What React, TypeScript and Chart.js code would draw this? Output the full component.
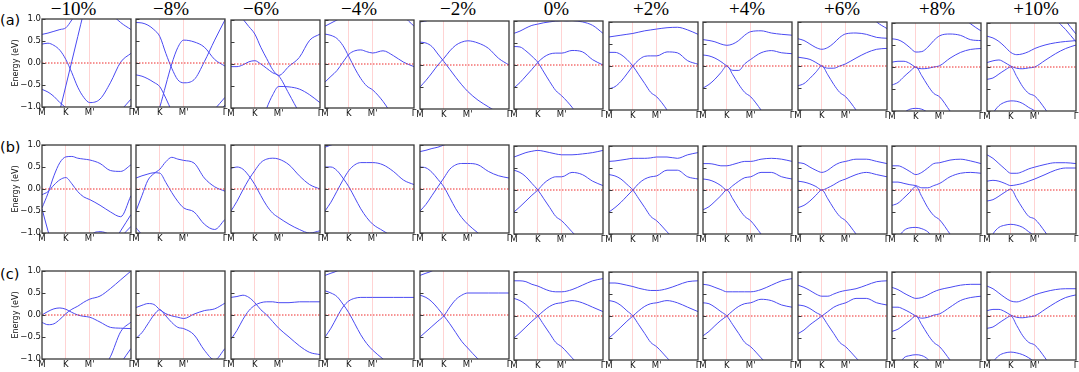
import React, { useEffect, useRef } from "react";
import { Chart, registerables } from "chart.js";
Chart.register(...registerables);

// k-path sample positions (M -> K -> M' -> Gamma), normalised length
const K_PATH = [0, 0.067, 0.134, 0.201, 0.268, 0.335, 0.402, 0.469, 0.536, 0.652, 0.768, 0.884, 1.0];
const X_TICK_POS = [0, 0.268, 0.536, 1];
const X_TICK_LABELS = ["M", "K", "M'", "Γ"];
const Y_TICKS = [-1, -0.5, 0, 0.5, 1];
const FERMI_LEVEL = 0;
const STRAINS = ["−10%", "−8%", "−6%", "−4%", "−2%", "0%", "+2%", "+4%", "+6%", "+8%", "+10%"];
const ROW_LABELS = ["(a)", "(b)", "(c)"];

// ---- row (a) band energies (eV) ----
const A_M10 = [
  [0.65, 0.68, 0.72, 0.76, 0.8, 0.98, 1.2, 1.4, 1.6, 1.8, 2, 2, 2],
  [0.43, 0.45, 0.4, 0.29, 0.08, -0.22, -0.55, -0.78, -0.9, -0.82, -0.45, 0.02, 0.22],
  [-2.2, -1.9, -1.6, -1.07, -0.52, 0.04, 0.6, 1.16, 1.7, 2.2, 2.5, 2.5, 2.5],
  [-0.6, -0.66, -0.76, -0.9, -1.02, -1.2, -1.4, -1.6, -1.8, -2, -2, -2, -2],
  [2, 2, 2, 2, 2, 2, 2, 2, 1.8, 1.5, 1.15, 0.92, 0.76],
  [-2, -2, -2, -2, -2, -2, -2, -2, -2, -1.6, -1.3, -1.08, -0.82],
  [-2, -2, -2, -2, -2, -2, -2, -2, -2, -1.8, -1.5, -1.25, -0.96],
];
const A_M8 = [
  [0.92, 0.91, 0.86, 0.76, 0.6, 0.22, -0.12, -0.38, -0.45, -0.38, 0.03, 0.52, 0.98],
  [-0.27, -0.3, -0.36, -0.44, -0.54, -0.8, -1.1, -1.4, -1.7, -2, -2, -2, -2],
  [-2.5, -2.2, -1.8, -1.4, -1.0, -0.5, -0.02, 0.35, 0.52, 0.48, 0.36, 0.08, -0.07],
  [-2, -2, -2, -2, -2, -2, -2, -2, -2, -1.6, -1.3, -1.05, -0.78],
  [-2, -2, -2, -2, -2, -2, -2, -2, -2, -1.8, -1.5, -1.25, -0.95],
];
const A_M6 = [
  [1.4, 1.2, 1.02, 0.85, 0.68, 0.38, 0.12, -0.13, -0.26, -0.05, 0.15, 0.54, 0.68],
  [-0.06, -0.06, -0.02, 0.05, 0.075, 0.0, -0.1, -0.2, -0.27, -0.68, -1.1, -1.4, -1.6],
  [-2.5, -2.3, -2.1, -1.8, -1.6, -1.4, -1.0, -0.7, -0.51, -0.52, -0.57, -0.7, -0.88],
];
const A_M4 = [
  [0.86, 0.93, 1.0, 1.08, 1.2, 1.3, 1.5, 1.7, 1.9, 2, 2, 2, 2],
  [2, 2, 2, 2, 2, 2, 2, 2, 2, 1.8, 1.5, 1.1, 0.86],
  [0.68, 0.65, 0.58, 0.42, 0.17, -0.1, -0.33, -0.5, -0.59, -0.85, -1.2, -1.5, -1.8],
  [-0.41, -0.28, -0.15, 0.04, 0.22, 0.3, 0.32, 0.28, 0.25, 0.3, 0.19, 0.04, -0.06],
];
const A_M2 = [
  [0.98, 1.0, 1.05, 1.1, 1.2, 1.3, 1.5, 1.7, 1.9, 2, 2, 2, 2],
  [0.52, 0.5, 0.42, 0.25, 0.08, -0.1, -0.28, -0.45, -0.6, -0.8, -0.95, -1.1, -1.3],
  [-0.5, -0.35, -0.18, 0.0, 0.15, 0.32, 0.45, 0.52, 0.55, 0.5, 0.38, 0.15, 0.0],
];
const A_0 = [
  [0.72, 0.77, 0.84, 0.9, 0.93, 0.96, 0.98, 1.0, 1.01, 1.01, 0.98, 0.9, 0.72],
  [0.42, 0.41, 0.32, 0.2, 0.06, -0.16, -0.38, -0.58, -0.7, -0.96, -1.3, -1.6, -1.9],
  [-0.52, -0.4, -0.25, -0.1, 0.06, 0.18, 0.25, 0.27, 0.27, 0.33, 0.3, 0.12, 0.0],
];
const A_P2 = [
  [0.66, 0.68, 0.7, 0.72, 0.74, 0.77, 0.8, 0.82, 0.84, 0.87, 0.88, 0.82, 0.72],
  [0.31, 0.31, 0.26, 0.15, 0.0, -0.2, -0.4, -0.6, -0.7, -1.0, -1.4, -1.7, -2],
  [-0.52, -0.47, -0.35, -0.18, 0.0, 0.14, 0.22, 0.23, 0.23, 0.32, 0.3, 0.12, 0.04],
];
const A_P4 = [
  [0.6, 0.58, 0.55, 0.5, 0.47, 0.5, 0.58, 0.7, 0.78, 0.8, 0.75, 0.72, 0.7],
  [0.25, 0.23, 0.18, 0.1, 0.0, -0.1, -0.1, 0.05, 0.15, 0.3, 0.35, 0.3, 0.28],
  [-0.5, -0.42, -0.3, -0.15, 0.0, -0.2, -0.42, -0.6, -0.7, -1.0, -1.35, -1.7, -2],
];
const A_P6 = [
  [0.62, 0.58, 0.5, 0.42, 0.38, 0.42, 0.52, 0.65, 0.73, 0.75, 0.72, 0.65, 0.63],
  [0.2, 0.18, 0.15, 0.08, 0.0, -0.05, -0.05, 0.0, 0.05, 0.18, 0.3, 0.38, 0.4],
  [-0.45, -0.4, -0.28, -0.14, 0.0, -0.2, -0.42, -0.6, -0.7, -1.0, -1.35, -1.7, -2],
  [2, 2, 2, 2, 2, 2, 2, 2, 2, 1.6, 1.25, 1.0, 0.85],
];
const A_P8 = [
  [0.64, 0.62, 0.55, 0.44, 0.34, 0.35, 0.45, 0.6, 0.71, 0.75, 0.72, 0.62, 0.6],
  [0.11, 0.13, 0.13, 0.08, -0.01, -0.04, -0.03, 0.0, 0.03, 0.2, 0.33, 0.4, 0.42],
  [-0.41, -0.35, -0.22, -0.1, 0.0, -0.2, -0.42, -0.6, -0.68, -1.0, -1.3, -1.6, -1.9],
  [-1.4, -1.2, -1.04, -0.96, -0.94, -0.96, -1.04, -1.2, -1.4, -1.7, -2, -2, -2],
  [2, 2, 2, 2, 2, 2, 2, 2, 2, 1.6, 1.2, 0.98, 0.82],
];
const A_P10 = [
  [0.7, 0.66, 0.58, 0.46, 0.33, 0.28, 0.3, 0.35, 0.42, 0.5, 0.55, 0.58, 0.6],
  [0.1, 0.14, 0.16, 0.1, 0.02, -0.03, -0.04, -0.02, 0.0, 0.15, 0.3, 0.42, 0.5],
  [-0.28, -0.25, -0.16, -0.07, 0.0, -0.22, -0.45, -0.6, -0.66, -0.95, -1.3, -1.6, -1.9],
  [-1.3, -1.05, -0.88, -0.8, -0.77, -0.78, -0.83, -0.92, -1.0, -1.3, -1.6, -2, -2],
  [2, 2, 2, 2, 2, 2, 2, 2, 2, 1.5, 1.1, 0.85, 0.57],
  [2, 2, 2, 2, 2, 2, 2, 2, 2, 1.8, 1.4, 1.05, 0.75],
];

// ---- row (b) ----
const B_M10 = [
  [-0.43, -0.1, 0.3, 0.6, 0.73, 0.74, 0.7, 0.68, 0.66, 0.58, 0.42, 0.4, 0.55],
  [-0.13, -0.06, 0.09, 0.21, 0.26, 0.12, -0.06, -0.18, -0.24, -0.37, -0.52, -0.63, -0.15],
  [-0.45, -0.95, -1.4, -1.8, -2, -2, -2, -2, -2, -2, -2, -2, -2],
  [-2, -2, -2, -2, -2, -2, -2, -2, -1.6, -1.4, -1.3, -0.95, -0.58],
  [-2, -2, -2, -2, -2, -2, -2, -2, -2, -1.7, -1.4, -1.1, -0.85],
  [-2, -2, -2, -2, -2, -2, -2, -1.5, -1.1, -0.97, -1.05, -1.3, -1.6],
];
const B_M8 = [
  [0.25, 0.3, 0.34, 0.37, 0.36, 0.15, -0.08, -0.28, -0.43, -0.52, -0.8, -0.92, -0.69],
  [-0.5, -0.15, 0.2, 0.35, 0.45, 0.62, 0.72, 0.68, 0.65, 0.59, 0.25, 0.05, -0.05],
  [-0.88, -1.05, -1.3, -1.6, -2, -2, -2, -2, -2, -2, -2, -2, -2],
];
const B_M6 = [
  [0.47, 0.5, 0.45, 0.3, 0.1, -0.15, -0.38, -0.55, -0.65, -0.8, -0.92, -1.0, -0.95],
  [-0.5, -0.28, -0.02, 0.22, 0.42, 0.6, 0.68, 0.7, 0.68, 0.55, 0.3, 0.1, 0.0],
];
const B_M4 = [
  [0.95, 1.0, 1.05, 1.2, 1.4, 1.6, 1.8, 2, 2, 2, 2, 2, 2],
  [0.5, 0.5, 0.42, 0.25, 0.05, -0.2, -0.45, -0.65, -0.8, -0.95, -1.1, -1.3, -1.5],
  [-0.5, -0.3, -0.05, 0.2, 0.42, 0.55, 0.6, 0.6, 0.6, 0.55, 0.4, 0.2, 0.1],
];
const B_M2 = [
  [0.85, 0.88, 0.92, 0.95, 1.0, 1.05, 1.2, 1.4, 1.6, 2, 2, 2, 2],
  [0.5, 0.48, 0.38, 0.22, 0.05, -0.2, -0.45, -0.65, -0.8, -1.0, -1.2, -1.4, -1.6],
  [-0.5, -0.35, -0.15, 0.05, 0.25, 0.45, 0.55, 0.58, 0.58, 0.55, 0.4, 0.3, 0.25],
];
const B_0 = [
  [0.75, 0.8, 0.85, 0.88, 0.9, 0.88, 0.85, 0.82, 0.8, 0.8, 0.82, 0.85, 0.9],
  [0.45, 0.4, 0.3, 0.15, 0.0, -0.2, -0.4, -0.6, -0.7, -0.95, -1.2, -1.5, -1.8],
  [-0.5, -0.38, -0.25, -0.12, 0.0, 0.15, 0.25, 0.3, 0.3, 0.4, 0.35, 0.2, 0.1],
];
const B_P2 = [
  [0.65, 0.66, 0.68, 0.7, 0.72, 0.72, 0.72, 0.73, 0.75, 0.75, 0.72, 0.8, 0.85],
  [0.35, 0.32, 0.25, 0.13, 0.0, -0.2, -0.4, -0.6, -0.7, -0.95, -1.2, -1.5, -1.8],
  [-0.5, -0.4, -0.28, -0.14, 0.0, 0.15, 0.25, 0.3, 0.32, 0.45, 0.45, 0.3, 0.25],
];
const B_P4 = [
  [0.6, 0.6, 0.58, 0.55, 0.55, 0.58, 0.62, 0.65, 0.65, 0.7, 0.72, 0.7, 0.65],
  [0.25, 0.23, 0.18, 0.1, 0.0, 0.1, 0.2, 0.28, 0.3, 0.4, 0.4, 0.3, 0.25],
  [-0.45, -0.38, -0.26, -0.13, 0.0, -0.2, -0.42, -0.6, -0.7, -1.0, -1.3, -1.6, -1.9],
];
const B_P6 = [
  [0.62, 0.6, 0.52, 0.45, 0.4, 0.45, 0.55, 0.62, 0.65, 0.7, 0.7, 0.65, 0.6],
  [0.2, 0.18, 0.14, 0.08, 0.0, 0.05, 0.12, 0.2, 0.25, 0.35, 0.4, 0.35, 0.3],
  [-0.4, -0.35, -0.25, -0.12, 0.0, -0.2, -0.42, -0.6, -0.7, -1.0, -1.3, -1.6, -1.9],
];
const B_P8 = [
  [0.55, 0.55, 0.5, 0.42, 0.35, 0.4, 0.5, 0.6, 0.62, 0.68, 0.7, 0.66, 0.6],
  [0.18, 0.18, 0.15, 0.12, 0.1, 0.05, 0.05, 0.1, 0.15, 0.3, 0.38, 0.4, 0.38],
  [-0.35, -0.3, -0.18, -0.05, 0.08, -0.15, -0.4, -0.58, -0.68, -1.0, -1.3, -1.6, -1.9],
  [-1.4, -1.1, -0.92, -0.86, -0.85, -0.88, -0.95, -1.1, -1.3, -1.6, -2, -2, -2],
];
const B_P10 = [
  [0.8, 0.72, 0.6, 0.48, 0.38, 0.38, 0.42, 0.48, 0.52, 0.58, 0.62, 0.62, 0.6],
  [0.2, 0.22, 0.2, 0.15, 0.1, 0.12, 0.15, 0.2, 0.25, 0.35, 0.45, 0.5, 0.5],
  [-0.25, -0.22, -0.14, -0.05, 0.02, -0.2, -0.42, -0.6, -0.66, -0.95, -1.3, -1.6, -1.9],
  [-1.3, -1.0, -0.85, -0.8, -0.78, -0.8, -0.85, -0.95, -1.05, -1.3, -1.6, -2, -2],
];

// ---- row (c) ----
const C_M10 = [
  [0.0, 0.08, 0.14, 0.16, 0.13, 0.06, 0.0, -0.03, -0.05, -0.16, -0.28, -0.3, -0.31],
  [-0.17, -0.22, -0.2, -0.1, 0.03, 0.13, 0.2, 0.29, 0.36, 0.43, 0.6, 0.8, 1.0],
  [-2, -2, -2, -2, -2, -2, -2, -2, -2, -1.3, -0.95, -0.38, -0.16],
  [-2, -2, -2, -2, -2, -2, -2, -2, -2, -2, -1.5, -1.1, -0.76],
];
const C_M8 = [
  [0.17, 0.22, 0.26, 0.24, 0.12, 0.03, -0.02, -0.05, -0.08, 0.02, 0.1, 0.14, 0.27],
  [-0.53, -0.4, -0.2, 0.0, 0.12, -0.02, -0.17, -0.28, -0.31, -0.45, -0.8, -1.02, -0.76],
];
const C_M6 = [
  [0.4, 0.42, 0.45, 0.4, 0.28, 0.12, 0.0, -0.15, -0.3, -0.5, -0.7, -0.85, -0.9],
  [-0.55, -0.35, -0.1, 0.1, 0.22, 0.28, 0.3, 0.3, 0.28, 0.28, 0.3, 0.3, 0.3],
];
const C_M4 = [
  [0.9, 0.95, 1.0, 1.1, 1.3, 1.5, 1.7, 2, 2, 2, 2, 2, 2],
  [0.55, 0.5, 0.42, 0.25, 0.05, -0.2, -0.45, -0.65, -0.8, -1.0, -1.2, -1.4, -1.6],
  [-0.5, -0.3, -0.05, 0.18, 0.32, 0.38, 0.4, 0.4, 0.4, 0.4, 0.4, 0.4, 0.4],
];
const C_M2 = [
  [0.9, 0.95, 1.0, 1.1, 1.3, 1.5, 1.7, 2, 2, 2, 2, 2, 2],
  [0.45, 0.4, 0.3, 0.15, -0.02, -0.2, -0.4, -0.6, -0.75, -1.0, -1.2, -1.4, -1.6],
  [-0.5, -0.38, -0.26, -0.14, -0.02, 0.18, 0.35, 0.45, 0.5, 0.5, 0.5, 0.5, 0.5],
];
const C_0 = [
  [0.8, 0.8, 0.78, 0.72, 0.68, 0.62, 0.57, 0.55, 0.55, 0.6, 0.7, 0.8, 0.85],
  [0.4, 0.35, 0.26, 0.13, 0.0, -0.2, -0.4, -0.6, -0.7, -0.95, -1.2, -1.5, -1.8],
  [-0.5, -0.38, -0.25, -0.12, 0.0, 0.12, 0.22, 0.28, 0.3, 0.35, 0.3, 0.2, 0.1],
];
const C_P2 = [
  [0.75, 0.75, 0.73, 0.7, 0.67, 0.63, 0.6, 0.58, 0.58, 0.62, 0.7, 0.78, 0.8],
  [0.35, 0.32, 0.24, 0.12, 0.0, -0.2, -0.4, -0.6, -0.7, -0.95, -1.2, -1.5, -1.8],
  [-0.5, -0.38, -0.25, -0.12, 0.0, 0.12, 0.22, 0.28, 0.3, 0.35, 0.3, 0.2, 0.1],
];
const C_P4 = [
  [0.72, 0.7, 0.65, 0.6, 0.55, 0.55, 0.55, 0.55, 0.55, 0.6, 0.7, 0.8, 0.85],
  [0.3, 0.28, 0.2, 0.1, 0.0, -0.2, -0.4, -0.6, -0.7, -0.95, -1.2, -1.5, -1.8],
  [-0.45, -0.35, -0.22, -0.1, 0.0, 0.12, 0.22, 0.28, 0.3, 0.38, 0.35, 0.25, 0.2],
];
const C_P6 = [
  [0.7, 0.65, 0.58, 0.5, 0.45, 0.45, 0.5, 0.55, 0.58, 0.62, 0.7, 0.78, 0.8],
  [0.25, 0.23, 0.17, 0.08, 0.0, -0.2, -0.4, -0.6, -0.7, -0.95, -1.2, -1.5, -1.8],
  [-0.4, -0.32, -0.2, -0.1, 0.0, 0.1, 0.2, 0.26, 0.3, 0.4, 0.4, 0.3, 0.25],
];
const C_P8 = [
  [0.65, 0.6, 0.52, 0.45, 0.4, 0.42, 0.48, 0.55, 0.6, 0.65, 0.7, 0.72, 0.72],
  [0.2, 0.2, 0.15, 0.08, 0.0, -0.05, -0.03, 0.02, 0.05, 0.2, 0.35, 0.42, 0.45],
  [-0.35, -0.3, -0.2, -0.1, 0.0, -0.2, -0.42, -0.6, -0.7, -1.0, -1.3, -1.6, -1.9],
  [-1.4, -1.15, -0.95, -0.9, -0.88, -0.9, -0.98, -1.15, -1.4, -1.7, -2, -2, -2],
];
const C_P10 = [
  [0.68, 0.62, 0.52, 0.42, 0.34, 0.32, 0.36, 0.42, 0.48, 0.55, 0.6, 0.62, 0.62],
  [0.12, 0.15, 0.15, 0.1, 0.02, -0.03, -0.04, -0.02, 0.0, 0.15, 0.3, 0.42, 0.48],
  [-0.28, -0.25, -0.16, -0.07, 0.0, -0.22, -0.45, -0.6, -0.66, -0.95, -1.3, -1.6, -1.9],
  [-1.3, -1.05, -0.9, -0.84, -0.82, -0.84, -0.88, -0.95, -1.05, -1.3, -1.6, -2, -2],
];

const PANELS = [
  [A_M10, A_M8, A_M6, A_M4, A_M2, A_0, A_P2, A_P4, A_P6, A_P8, A_P10],
  [B_M10, B_M8, B_M6, B_M4, B_M2, B_0, B_P2, B_P4, B_P6, B_P8, B_P10],
  [C_M10, C_M8, C_M6, C_M4, C_M2, C_0, C_P2, C_P4, C_P6, C_P8, C_P10],
];

// ---- layout & style ----
const PANEL_W = 89;
const PANEL_H = 88;
const COL_X0 = 42;
const COL_PITCH = 94.45;
const ROW_TOP = [19, 145, 271];
const ROW_DRIFT = [0.43, 0.1, 0.1];
const HEADER_X = [73.5, 171, 261, 359, 458, 556.5, 651, 747, 842, 937, 1036];
const ROW_LABEL_TOP = [13, 140, 267];
const BAND_COLOR = "#4a4af2";
const FERMI_COLOR = "#ee2a2a";
const KLINE_COLOR = "#ffd3d3";
const FRAME_COLOR = "#3a3a3a";
const SANS = "'DejaVu Sans', sans-serif";

const framePlugin = {
  id: "frame",
  afterDatasetsDraw(chart: any) {
    const { ctx, chartArea } = chart;
    const y = chart.scales.y;
    ctx.save();
    ctx.strokeStyle = FRAME_COLOR;
    ctx.lineWidth = 1;
    Y_TICKS.forEach((v) => {
      const py = Math.round(y.getPixelForValue(v)) + 0.5;
      ctx.beginPath();
      ctx.moveTo(chartArea.left, py);
      ctx.lineTo(chartArea.left + 3.5, py);
      ctx.stroke();
    });
    ctx.lineWidth = 1.3;
    ctx.strokeRect(chartArea.left, chartArea.top, chartArea.right - chartArea.left, chartArea.bottom - chartArea.top);
    ctx.restore();
  },
};

function Panel({ bands, row, col }: { bands: number[][]; row: number; col: number }) {
  const ref = useRef<HTMLCanvasElement | null>(null);
  const first = col === 0;
  const padL = first ? 42 : 6;
  const padT = 6;
  const padB = 14;
  const padR = 6;
  const left = Math.round(COL_X0 + COL_PITCH * col) - padL;
  const top = Math.round(ROW_TOP[row] + ROW_DRIFT[row] * col) - padT;
  const w = padL + PANEL_W + padR;
  const h = padT + PANEL_H + padB;

  useEffect(() => {
    const datasets: any[] = [
      {
        data: [{ x: 0, y: FERMI_LEVEL }, { x: 1, y: FERMI_LEVEL }],
        borderColor: FERMI_COLOR,
        borderDash: [1.5, 1.5],
        borderWidth: 1,
        pointRadius: 0,
      },
    ];
    bands.forEach((b) => {
      datasets.push({
        data: K_PATH.map((x, i) => ({ x, y: b[i] })),
        borderColor: BAND_COLOR,
        borderWidth: 1,
        pointRadius: 0,
        cubicInterpolationMode: "monotone",
        fill: false,
      });
    });
    const chart = new Chart(ref.current as HTMLCanvasElement, {
      type: "line",
      data: { datasets },
      options: {
        animation: false,
        responsive: false,
        maintainAspectRatio: false,
        events: [],
        layout: { padding: { top: padT, right: padR, left: 0, bottom: 0 } },
        plugins: { legend: { display: false }, tooltip: { enabled: false } },
        scales: {
          x: {
            type: "linear",
            min: 0,
            max: 1,
            afterBuildTicks: (s: any) => {
              s.ticks = X_TICK_POS.map((v) => ({ value: v }));
            },
            afterFit: (s: any) => {
              s.height = padB;
              s.paddingLeft = 0;
              s.paddingRight = 0;
            },
            ticks: {
              autoSkip: false,
              maxRotation: 0,
              padding: 1,
              color: "#111",
              font: { family: SANS, size: 8.5 },
              callback: (_v: any, i: number) => X_TICK_LABELS[i],
            },
            grid: {
              drawTicks: false,
              lineWidth: 1,
              color: (c: any) => (c.index === 1 || c.index === 2 ? KLINE_COLOR : "rgba(0,0,0,0)"),
            },
            border: { display: false },
          },
          y: {
            type: "linear",
            min: -1,
            max: 1,
            afterBuildTicks: (s: any) => {
              s.ticks = Y_TICKS.map((v) => ({ value: v }));
            },
            afterFit: (s: any) => {
              s.width = padL;
              s.paddingTop = 0;
              s.paddingBottom = 0;
            },
            ticks: {
              display: first,
              autoSkip: false,
              padding: 1,
              color: "#111",
              font: { family: SANS, size: 8.5 },
              callback: (v: any) => Number(v).toFixed(1).replace("-", "\u2212"),
            },
            grid: { display: false, drawTicks: false, tickLength: 0 },
            border: { display: false },
            title: {
              display: first,
              text: "Energy (eV)",
              color: "#111",
              font: { family: SANS, size: 8 },
              padding: { top: 11, bottom: 0 },
            },
          },
        },
      } as any,
      plugins: [framePlugin],
    });
    return () => chart.destroy();
  }, []);

  return (
    <canvas
      ref={ref}
      width={w}
      height={h}
      style={{ position: "absolute", left, top, width: w, height: h }}
    />
  );
}

export default function App() {
  return (
    <div
      style={{
        position: "absolute",
        left: 0,
        top: 0,
        width: 1079,
        height: 372,
        background: "#fff",
        overflow: "hidden",
      }}
    >
      {STRAINS.map((s, i) => (
        <div
          key={s}
          style={{
            position: "absolute",
            left: HEADER_X[i],
            top: -1.5,
            transform: "translateX(-50%)",
            fontFamily: "'Liberation Serif', serif",
            fontSize: 19,
            lineHeight: "19px",
            whiteSpace: "nowrap",
            color: "#000",
          }}
        >
          {s}
        </div>
      ))}
      {ROW_LABELS.map((r, i) => (
        <div
          key={r}
          style={{
            position: "absolute",
            left: 0,
            top: ROW_LABEL_TOP[i],
            fontFamily: SANS,
            fontSize: 14.5,
            lineHeight: "14.5px",
            color: "#000",
          }}
        >
          {r}
        </div>
      ))}
      {PANELS.map((rowPanels, r) =>
        rowPanels.map((bands, c) => <Panel key={`${r}-${c}`} bands={bands} row={r} col={c} />)
      )}
    </div>
  );
}
